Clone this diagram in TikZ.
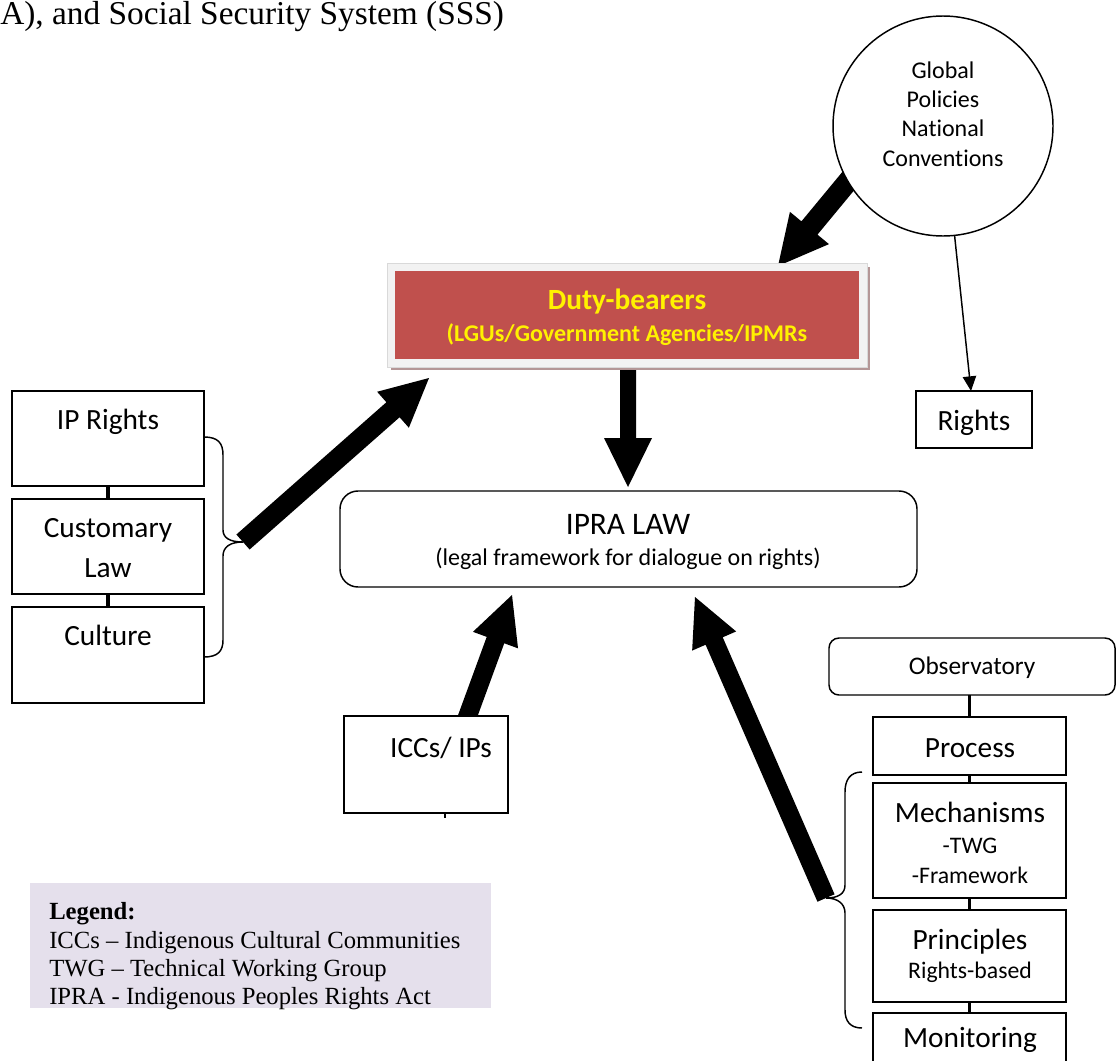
\documentclass[tikz,border=0pt]{standalone}
\usepackage{fontspec}
\setmainfont{Liberation Serif}
\setsansfont{Carlito}[Ligatures=NoCommon]
\usetikzlibrary{calc,arrows.meta}
\definecolor{dutyred}{HTML}{C0504D}
\definecolor{dutyframe}{HTML}{F2F2F2}
\definecolor{dutyshadow}{HTML}{B49696}
\definecolor{legendbg}{HTML}{E5E0EC}

% fat block arrow: tail, tip, shaft half-width, head half-width, head length
\newcommand\fatarrow[5]{%
  \coordinate (fa-base) at ($(#2)!#5!(#1)$);
  \fill ($(#1)!#3!90:(#2)$) -- ($(fa-base)!#3!90:(#2)$) -- ($(fa-base)!#4!90:(#2)$)
     -- (#2) -- ($(fa-base)!#4!-90:(#2)$) -- ($(fa-base)!#3!-90:(#2)$)
     -- ($(#1)!#3!-90:(#2)$) -- cycle;}

\begin{document}
\begin{tikzpicture}[x=0.75pt,y=-0.75pt,
  sz/.style 2 args={minimum width=#1*0.75pt, minimum height=#2*0.75pt},
  box/.style={draw, line width=1.1pt, fill=white, inner sep=0pt, outer sep=0pt},
  rbox/.style={box, rounded corners=#1},
  big/.style={font=\sffamily\fontsize{22}{26}\selectfont, anchor=base, inner sep=0pt},
  mid/.style={font=\sffamily\fontsize{18}{22}\selectfont, anchor=base, inner sep=0pt},
  small/.style={font=\sffamily\fontsize{17.8}{21}\selectfont, anchor=base, inner sep=0pt},
  link/.style={line width=2.4pt},
  brace/.style={line width=1.1pt}]
\clip (0,0) rectangle (1116,1060);
\fill[white] (0,0) rectangle (1116,1060);

% heading fragment
\node[anchor=base west, inner sep=0pt, font=\fontsize{25}{30}\selectfont] (head) at (0,24) {A), and Social Security System (SSS)};

% arrow ends
\coordinate (gl-tail) at (869,156);
\coordinate (gl-tip) at (778,266);
\coordinate (db-tail) at (628,366);
\coordinate (db-tip) at (628,487);
\coordinate (lb-tip) at (243,542);
\coordinate (lb-head) at (429,378);
\coordinate (icc-tail) at (464,726);
\coordinate (icc-head) at (512,595);
\coordinate (rb-tip) at (826,898);
\coordinate (rb-head) at (695,597);

% thick arrows
\fatarrow{gl-tail}{gl-tip}{7.8pt}{19pt}{37pt}
\fatarrow{db-tail}{db-tip}{6pt}{18pt}{36.75pt}
\fatarrow{lb-tip}{lb-head}{7.5pt}{18pt}{36pt}
\fatarrow{icc-tail}{icc-head}{7pt}{18pt}{36pt}
\fatarrow{rb-tip}{rb-head}{7pt}{18pt}{36pt}

% global policies circle and rights
\node[circle, draw, line width=1.1pt, fill=white, minimum size=220*0.75pt, inner sep=0pt] (global) at (943,126) {};
\node[mid] at (943,78) {Global};
\node[mid] at (943,107) {Policies};
\node[mid] at (943,136) {National};
\node[mid] at (943,166) {Conventions};

\node[box, sz={116}{57}] (rights) at (974,419.5) {};
\node[big] at (974,430) {Rights};
\draw[line width=1.1pt, -{Triangle[length=11pt,width=10pt]}] (global) -- (rights);

% duty-bearers
\fill[dutyshadow] (391,267) rectangle (870,370);
\node[draw=black!15, line width=0.5pt, fill=dutyframe, sz={480}{104}, inner sep=0pt] (dutyframe) at (627,315) {};
\node[fill=dutyred, sz={464}{88}, inner sep=0pt] (duty) at (627,315) {};
\node[anchor=base, inner sep=0pt, text=yellow, font=\sffamily\bfseries\fontsize{22}{25}\selectfont] at (627,309) {Duty-bearers};
\node[anchor=base, inner sep=0pt, text=yellow, font=\sffamily\bfseries\fontsize{18}{21}\selectfont] at (627,341) {(LGUs/Government Agencies/IPMRs};

% IPRA law
\node[rbox=13.5pt, sz={577}{96}] (ipra) at (628.5,539) {};
\node[anchor=base, inner sep=0pt, font=\sffamily\fontsize{23.5}{27}\selectfont] at (628,534) {IPRA LAW};
\node[anchor=base, inner sep=0pt, font=\sffamily\fontsize{18}{21}\selectfont] at (628,565) {(legal framework for dialogue on rights)};

% left column
\node[box, sz={192}{95}] (iprights) at (108,438.5) {};
\node[box, sz={192}{95}] (customary) at (108,546.5) {};
\node[box, sz={192}{96}] (culture) at (108,655) {};
\node[big] at (108,429) {IP Rights};
\node[big] at (108,537) {Customary};
\node[big] at (108,577) {Law};
\node[big] at (108,645) {Culture};
\draw[link] (iprights.south) -- (customary.north);
\draw[link] (customary.south) -- (culture.north);
\draw[brace] (204,437) .. controls (218,437) and (223,443) .. (223,455) -- (223,530)
  .. controls (223,538) and (230,542) .. (lb-tip)
  .. controls (230,542) and (223,547) .. (223,556) -- (223,640)
  .. controls (223,651) and (218,657) .. (204,657);

% ICCs / IPs
\node[box, sz={164}{97}] (iccs) at (426,764.5) {};
\node[big] at (441,757) {ICCs/ IPs};
\coordinate (iccs-tick) at (445,818);
\draw[line width=0.8pt] (iccs.south -| iccs-tick) -- (iccs-tick);

% right column
\node[rbox=7.5pt, sz={286}{57}] (observ) at (972,666.5) {};
\node[mid, font=\sffamily\fontsize{19}{22}\selectfont] at (972,674) {Observatory};
\node[box, sz={193}{58}] (process) at (969.5,746) {};
\node[box, sz={193}{115}] (mech) at (969.5,840.5) {};
\node[box, sz={193}{92}] (princ) at (969.5,956) {};
\node[box, sz={193}{60}] (monit) at (969.5,1043) {};
\node[big] at (970,757) {Process};
\node[big] at (970,822) {Mechanisms};
\node[small] at (970,853) {-TWG};
\node[small] at (970,883) {-Framework};
\node[big] at (970,949) {Principles};
\node[small] at (970,978) {Rights-based};
\node[big] at (970,1047) {Monitoring};
\draw[link] (observ.south -| process.north) -- (process.north);
\draw[link] (process.south) -- (mech.north);
\draw[link] (mech.south) -- (princ.north);
\draw[link] (princ.south) -- (monit.north);
\draw[brace] (862,772) .. controls (850,772) and (845,780) .. (845,792) -- (845,885)
  .. controls (845,894) and (838,898) .. (rb-tip)
  .. controls (838,898) and (845,904) .. (845,913) -- (845,1010)
  .. controls (845,1021) and (850,1028) .. (862,1028);

% legend
\node[fill=legendbg, sz={461}{125}, inner sep=0pt] (legend) at (260.5,945.5) {};
\node[anchor=base west, inner sep=0pt, font=\bfseries\fontsize{18.5}{22}\selectfont] at (49,919) {Legend:};
\node[anchor=base west, inner sep=0pt, font=\fontsize{18.5}{22}\selectfont] at (49,948) {ICCs – Indigenous Cultural Communities};
\node[anchor=base west, inner sep=0pt, font=\fontsize{18.5}{22}\selectfont] at (49,976) {TWG – Technical Working Group};
\node[anchor=base west, inner sep=0pt, font=\fontsize{18.5}{22}\selectfont] at (49,1004) {IPRA - Indigenous Peoples Rights Act};
\end{tikzpicture}
\end{document}
